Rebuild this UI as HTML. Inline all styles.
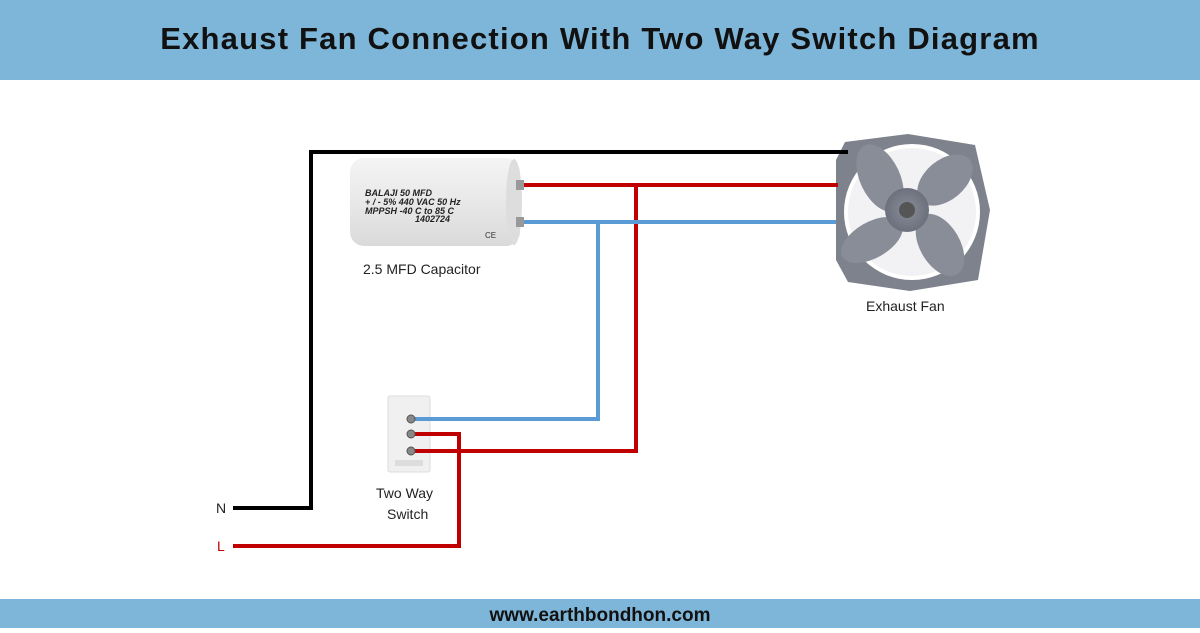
<!DOCTYPE html>
<html><head><meta charset="utf-8"><style>
body{margin:0;width:1200px;height:628px;overflow:hidden;background:#fff;font-family:"Liberation Sans",sans-serif}
</style></head><body>
<svg width="1200" height="628" xmlns="http://www.w3.org/2000/svg">
<rect x="0" y="0" width="1200" height="80" fill="#7eb6d9"/>
<text x="600" y="49" text-anchor="middle" font-size="31" font-weight="bold" fill="#111" letter-spacing="1.2" font-family="Liberation Sans, sans-serif">Exhaust Fan Connection With Two Way Switch Diagram</text>
<rect x="0" y="599" width="1200" height="29" fill="#7eb6d9"/>
<text x="600" y="621" text-anchor="middle" font-size="19" font-weight="bold" fill="#111">www.earthbondhon.com</text>
<defs><linearGradient id="cg" x1="0" y1="0" x2="0" y2="1"><stop offset="0" stop-color="#f4f4f4"/><stop offset="0.5" stop-color="#e8e8e8"/><stop offset="1" stop-color="#dadada"/></linearGradient>
<radialGradient id="fg"><stop offset="0" stop-color="#8a8e99"/><stop offset="1" stop-color="#6c707c"/></radialGradient></defs>
<rect x="350" y="158" width="170" height="88" rx="14" fill="url(#cg)"/>
<ellipse cx="514" cy="202" rx="8" ry="43" fill="#ddd"/>
<g font-size="9" font-weight="bold" font-style="italic" fill="#222">
<text x="365" y="196">BALAJI 50 MFD</text>
<text x="365" y="205">+ / - 5%  440 VAC 50 Hz</text>
<text x="365" y="214">MPPSH -40  C to  85  C</text>
<text x="415" y="222">1402724</text></g>
<text x="485" y="238" font-size="8" fill="#333">CE</text>
<rect x="516" y="180" width="8" height="10" fill="#999"/><rect x="516" y="217" width="8" height="10" fill="#999"/>
<text x="363" y="274" font-size="14" fill="#222">2.5 MFD Capacitor</text>
<!-- fan -->
<polygon points="845,142 908,134 975,145 990,210 978,280 910,291 848,282 836,260 836,160" fill="#7e828c"/>
<circle cx="912" cy="212" r="68" fill="#fff"/>
<circle cx="912" cy="212" r="64" fill="#f2f2f4"/>
<g fill="#898d98">
<ellipse cx="880" cy="178" rx="20" ry="36" transform="rotate(-25 880 178)"/>
<ellipse cx="945" cy="180" rx="20" ry="32" transform="rotate(50 945 180)"/>
<ellipse cx="940" cy="245" rx="20" ry="34" transform="rotate(-30 940 245)"/>
<ellipse cx="872" cy="240" rx="18" ry="34" transform="rotate(60 872 240)"/>
</g>
<circle cx="907" cy="210" r="22" fill="url(#fg)"/><circle cx="907" cy="210" r="8" fill="#555"/>
<text x="866" y="311" font-size="14" fill="#222">Exhaust Fan</text>
<rect x="388" y="396" width="42" height="76" rx="2" fill="#f0f0f0" stroke="#ddd"/>
<rect x="395" y="460" width="28" height="6" fill="#ddd"/>
<g fill="none" stroke-width="4" stroke-linejoin="miter">
<polyline points="233,508 311,508 311,152 848,152" stroke="#000"/>
<polyline points="524,185 838,185" stroke="#c00000"/>
<polyline points="410,451 636,451 636,185" stroke="#c00000"/>
<polyline points="233,546 459,546 459,434 410,434" stroke="#c00000"/>
<polyline points="524,222 836,222" stroke="#5b9bd5"/>
<polyline points="410,419 598,419 598,222" stroke="#5b9bd5"/>
</g>
<g fill="#888" stroke="#555"><circle cx="411" cy="419" r="4"/><circle cx="411" cy="434" r="4"/><circle cx="411" cy="451" r="4"/></g>
<text x="376" y="498" font-size="14" fill="#222">Two Way</text>
<text x="387" y="519" font-size="14" fill="#222">Switch</text>
<text x="216" y="513" font-size="14" fill="#222">N</text>
<text x="217" y="551" font-size="14" fill="#c00000">L</text>
</svg>
</body></html>
